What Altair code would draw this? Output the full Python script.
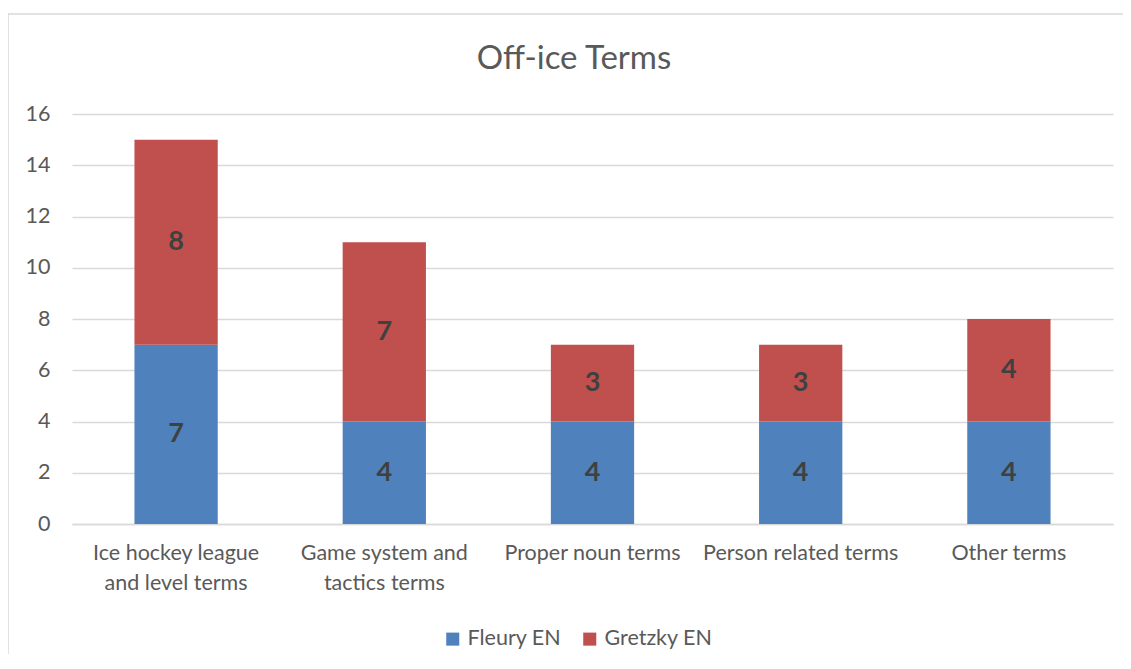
import altair as alt
import pandas as pd

title_text = "Off-ice Terms"
categories = [
    "Ice hockey league and level terms",
    "Game system and tactics terms",
    "Proper noun terms",
    "Person related terms",
    "Other terms",
]
label_lines = {
    "Ice hockey league and level terms": ["Ice hockey league", "and level terms"],
    "Game system and tactics terms": ["Game system and", "tactics terms"],
}
series = ["Fleury EN", "Gretzky EN"]
fleury = [7, 4, 4, 4, 4]
gretzky = [8, 7, 3, 3, 4]
colors = ["#4F81BD", "#C0504D"]

rows = []
for i, c in enumerate(categories):
    rows.append({"category": c, "series": series[0], "value": fleury[i], "order": 0})
    rows.append({"category": c, "series": series[1], "value": gretzky[i], "order": 1})
df = pd.DataFrame(rows)

FONT = "Lato"
GREY = "#595959"
FS = 21.5

label_expr = ""
for k, v in label_lines.items():
    label_expr += f"datum.label == '{k}' ? {v!r} : "
label_expr += "datum.label"

x = alt.X(
    "category:N",
    sort=categories,
    title=None,
    scale=alt.Scale(paddingInner=0.6, paddingOuter=0.3),
    axis=alt.Axis(
        labelAngle=0,
        labelExpr=label_expr,
        labelFont=FONT,
        labelFontSize=FS,
        labelColor=GREY,
        labelPadding=18,
        labelLineHeight=30,
        ticks=False,
        domainColor="#d9d9d9",
        domainWidth=1.5,
        labelLimit=300,
    ),
)

base = alt.Chart(df).transform_stack(
    stack="value", groupby=["category"], as_=["y0", "y1"], sort=[alt.SortField("order")]
).transform_calculate(mid="(datum.y0 + datum.y1) / 2")

bars = base.mark_bar().encode(
    x=x,
    y=alt.Y(
        "y0:Q",
        title=None,
        scale=alt.Scale(domain=[0, 16]),
        axis=alt.Axis(
            values=list(range(0, 17, 2)),
            labelFont=FONT,
            labelFontSize=FS,
            labelColor=GREY,
            labelPadding=22,
            ticks=False,
            domain=False,
            gridColor="#d9d9d9",
            gridWidth=1.5,
        ),
    ),
    y2="y1:Q",
    color=alt.Color(
        "series:N",
        scale=alt.Scale(domain=series, range=colors),
        legend=alt.Legend(
            title=None,
            orient="none",
            direction="horizontal",
            legendX=370,
            legendY=514,
            symbolType="square",
            symbolSize=170,
            symbolStrokeWidth=0,
            labelFont=FONT,
            labelFontSize=FS,
            labelColor=GREY,
            columnPadding=17,
            labelOffset=4,
        ),
    ),
)

texts = base.mark_text(font=FONT, fontSize=27, fontWeight="bold", color="#404040").encode(
    x=alt.X("category:N", sort=categories),
    y=alt.Y("mid:Q"),
    text="value:Q",
)

title = alt.Chart(pd.DataFrame({"t": [title_text]})).mark_text(
    font=FONT, fontSize=33, color=GREY, baseline="alphabetic", align="center"
).encode(x=alt.value(502), y=alt.value(-45), text="t:N")

border_v = alt.Chart(pd.DataFrame({"a": [0]})).mark_rule(color="#d9d9d9", strokeWidth=1.5).encode(
    x=alt.value(-64), y=alt.value(-100), y2=alt.value(620)
)
border_h = alt.Chart(pd.DataFrame({"a": [0]})).mark_rule(color="#d9d9d9", strokeWidth=1.5).encode(
    x=alt.value(-64), x2=alt.value(1100), y=alt.value(-100)
)

chart = alt.layer(border_v, border_h, bars, texts, title).properties(
    width=1041,
    height=410,
    padding={"left": 64, "top": 106, "right": 10, "bottom": 130},
    autosize=alt.AutoSizeParams(type="none"),
).configure_view(stroke=None)

chart.save("out.html", embed_options={"renderer": "svg", "actions": False})
